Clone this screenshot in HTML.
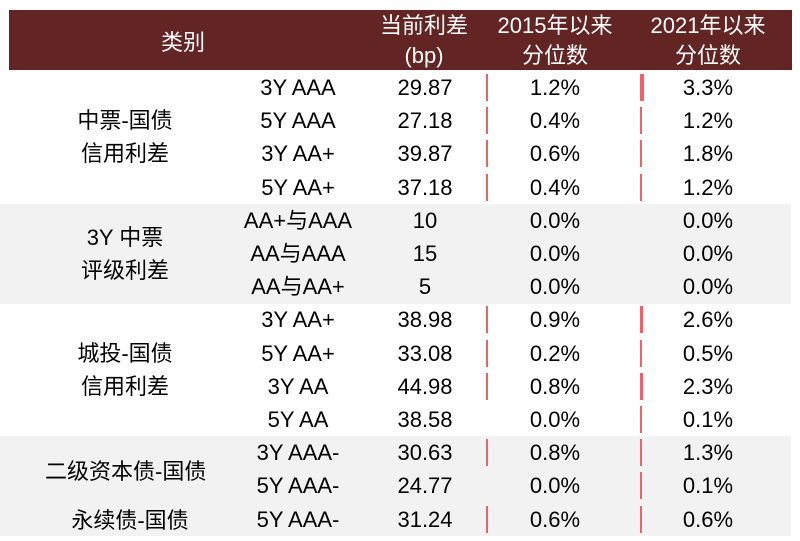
<!DOCTYPE html>
<html><head><meta charset="utf-8"><style>
body{margin:0;width:800px;height:541px;background:#fff;position:relative;overflow:hidden;font-family:"Liberation Sans","Noto Sans CJK SC",sans-serif;color:#000}
.a{position:absolute;font-size:22px;line-height:26px;text-align:center;white-space:nowrap}
.h{color:#fff}
.b{position:absolute;background:#f0606a}
</style></head><body>
<div style="position:absolute;left:9px;top:10px;width:783px;height:60px;background:#632523"></div>
<div style="position:absolute;left:0;top:204px;width:791px;height:100px;background:#f2f2f2"></div>
<div style="position:absolute;left:0;top:436px;width:791px;height:100px;background:#f2f2f2"></div>
<div class="a h" style="left:143px;width:80px;top:30px">类别</div>
<div class="a h" style="left:364px;width:120px;top:13px">当前利差</div>
<div class="a h" style="left:364px;width:120px;top:43px">(bp)</div>
<div class="a h" style="left:490px;width:130px;top:13px">2015年以来</div>
<div class="a h" style="left:490px;width:130px;top:43px">分位数</div>
<div class="a h" style="left:643px;width:130px;top:13px">2021年以来</div>
<div class="a h" style="left:643px;width:130px;top:43px">分位数</div>

<div class="a" style="left:45px;width:160px;top:108px">中票-国债</div>
<div class="a" style="left:45px;width:160px;top:141px">信用利差</div>
<div class="a" style="left:45px;width:160px;top:225px">3Y 中票</div>
<div class="a" style="left:45px;width:160px;top:258px">评级利差</div>
<div class="a" style="left:45px;width:160px;top:341px">城投-国债</div>
<div class="a" style="left:45px;width:160px;top:374px">信用利差</div>
<div class="a" style="left:45px;width:160px;top:459px">二级资本债-国债</div>
<div class="a" style="left:50px;width:160px;top:508px">永续债-国债</div>

<div id="rows"></div>
<script>
var d=[["3Y AAA","29.87","1.2%","3.3%"],["5Y AAA","27.18","0.4%","1.2%"],["3Y AA+","39.87","0.6%","1.8%"],["5Y AA+","37.18","0.4%","1.2%"],
["AA+与AAA","10","0.0%","0.0%"],["AA与AAA","15","0.0%","0.0%"],["AA与AA+","5","0.0%","0.0%"],
["3Y AA+","38.98","0.9%","2.6%"],["5Y AA+","33.08","0.2%","0.5%"],["3Y AA","44.98","0.8%","2.3%"],["5Y AA","38.58","0.0%","0.1%"],
["3Y AAA-","30.63","0.8%","1.3%"],["5Y AAA-","24.77","0.0%","0.1%"],["5Y AAA-","31.24","0.6%","0.6%"]];
var h="";
for(var i=0;i<d.length;i++){var t=71+33.2*i,y=t+4;var r=d[i];
h+='<div class="a" style="left:228px;width:140px;top:'+y+'px">'+r[0]+'</div>';
h+='<div class="a" style="left:370px;width:110px;top:'+y+'px">'+r[1]+'</div>';
h+='<div class="a" style="left:500px;width:110px;top:'+y+'px">'+r[2]+'</div>';
h+='<div class="a" style="left:653px;width:110px;top:'+y+'px">'+r[3]+'</div>';
var v1=parseFloat(r[2]),v2=parseFloat(r[3]);
if(v1>0)h+='<div class="b" style="left:486px;top:'+(t+3)+'px;height:27px;width:'+Math.max(1.5,v1*1.2)+'px"></div>';
if(v2>0)h+='<div class="b" style="left:640px;top:'+(t+3)+'px;height:27px;width:'+Math.max(1.5,v2*1.2)+'px"></div>';
}
document.getElementById("rows").innerHTML=h;
</script>
</body></html>
